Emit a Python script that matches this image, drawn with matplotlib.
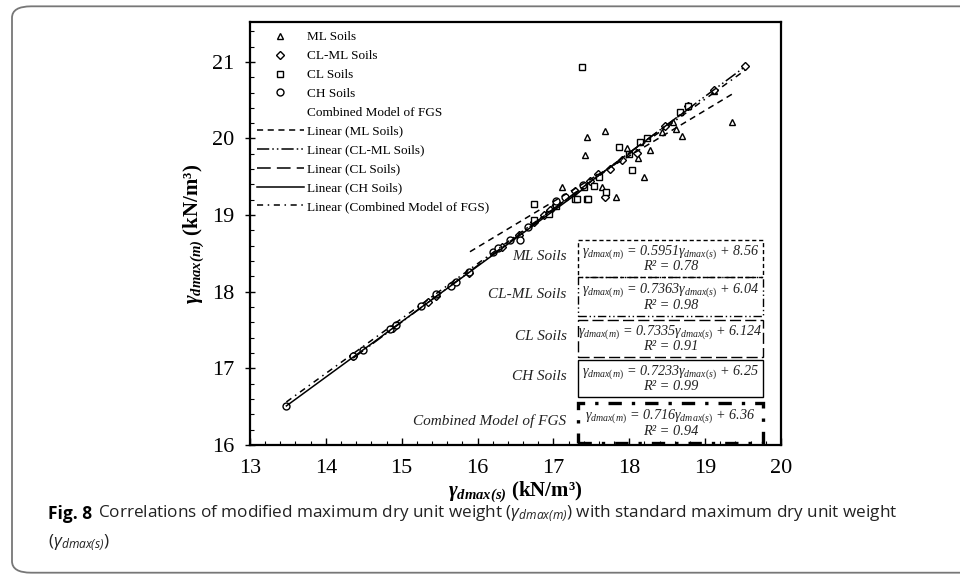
import numpy as np
import matplotlib
matplotlib.use("Agg")
import matplotlib.pyplot as plt
from matplotlib.lines import Line2D
from matplotlib.patches import Rectangle, FancyBboxPatch

plt.rcParams['font.family'] = ['Liberation Serif', 'DejaVu Serif']
plt.rcParams['mathtext.fontset'] = 'custom'
plt.rcParams['mathtext.rm'] = 'Liberation Serif'
plt.rcParams['mathtext.it'] = 'Liberation Serif:italic'
plt.rcParams['mathtext.bf'] = 'Liberation Serif:bold:italic'
plt.rcParams['mathtext.sf'] = 'Open Sans:italic'

# --- data ---
ml_x = [17.44, 17.68, 17.42, 17.97, 18.12, 18.28, 18.19, 17.64, 17.83, 17.11,
        18.43, 18.58, 18.62, 18.70, 19.36, 19.12, 17.00]
ml_y = [20.02, 20.10, 19.79, 19.87, 19.74, 19.85, 19.50, 19.37, 19.23, 19.37,
        20.09, 20.22, 20.13, 20.03, 20.21, 20.62, 19.12]

clml_x = [14.36, 14.88, 15.35, 15.45, 15.89, 16.32, 16.54, 16.74, 16.87, 16.96,
          17.05, 17.28, 17.48, 17.59, 17.68, 17.75, 17.90, 18.10, 18.47, 18.78,
          19.12, 19.53]
clml_y = [17.16, 17.53, 17.87, 17.95, 18.24, 18.59, 18.74, 18.91, 19.00, 19.07,
          19.16, 19.31, 19.44, 19.54, 19.24, 19.60, 19.72, 19.81, 20.16, 20.42,
          20.63, 20.94]

cl_x = [16.74, 16.74, 16.94, 17.29, 17.44, 17.38, 17.53, 17.46, 17.31, 17.69,
        17.86, 18.14, 18.04, 18.67, 18.78, 18.24, 17.04, 17.40, 17.60, 18.00]
cl_y = [19.15, 18.94, 19.02, 19.21, 19.21, 20.93, 19.38, 19.21, 19.21, 19.30,
        19.89, 19.95, 19.59, 20.34, 20.42, 20.00, 19.12, 19.37, 19.50, 19.80]

ch_x = [13.48, 14.36, 14.49, 14.85, 14.92, 15.26, 15.45, 15.65, 15.72, 15.89,
        16.21, 16.27, 16.43, 16.56, 16.67, 17.04, 17.15, 17.39]
ch_y = [16.51, 17.16, 17.24, 17.51, 17.57, 17.82, 17.97, 18.08, 18.13, 18.26,
        18.52, 18.57, 18.67, 18.67, 18.85, 19.18, 19.23, 19.39]

# trendlines as drawn: slope, drawn intercept, x range
groups = ['ML Soils', 'CL-ML Soils', 'CL Soils', 'CH Soils', 'Combined Model of FGS']
slopes = [0.5951, 0.7363, 0.7335, 0.7233, 0.716]
drawn_intercepts = [9.06, 6.56, 6.61, 6.76, 6.91]
fit_x0 = [15.90, 14.36, 16.74, 13.48, 13.48]
fit_x1 = [19.36, 19.53, 18.78, 17.40, 19.53]

eq_text = ['0.5951', '0.7363', '0.7335', '0.7233', '0.716']
eq_const = ['8.56', '6.04', '6.124', '6.25', '6.36']
r2_text = ['0.78', '0.98', '0.91', '0.99', '0.94']

line_styles = [(0, (4, 3)), (0, (8, 2, 1, 2, 1, 2)), (0, (9, 4)), '-', (0, (4, 3, 1, 3))]

fig = plt.figure(figsize=(9.6, 5.75), dpi=100)
ax = fig.add_axes([0.2604, 0.2261, 0.5531, 0.7356])

mk = dict(ls='none', mfc='white', mec='black', mew=1.0, ms=5)
ax.plot(ml_x, ml_y, marker='^', **mk)
ax.plot(clml_x, clml_y, marker='D', **dict(mk, ms=4.2))
ax.plot(cl_x, cl_y, marker='s', **dict(mk, ms=4.5))
ax.plot(ch_x, ch_y, marker='o', **mk)

for i in range(len(groups)):
    xx = np.array([fit_x0[i], fit_x1[i]])
    ax.plot(xx, slopes[i] * xx + drawn_intercepts[i], color='black',
            ls=line_styles[i], lw=1.1)

ax.set_xlim(13, 20)
ax.set_ylim(16, 21.52)
ax.set_xticks(range(13, 21))
ax.set_yticks(range(16, 22))
ax.set_xticks(np.arange(13, 20.01, 0.2), minor=True)
ax.set_yticks(np.arange(16, 21.52, 0.2), minor=True)
ax.tick_params(axis='both', which='major', labelsize=16, direction='in', length=5, width=1)
ax.tick_params(axis='both', which='minor', direction='in', length=3, width=0.8)
ax.tick_params(axis='y', which='major', direction='inout', length=7, pad=8)
ax.tick_params(axis='x', pad=10)
for s in ax.spines.values():
    s.set_linewidth(1.6)

ax.set_xlabel(r'$\mathbf{\gamma_{dmax(s)}}$ (kN/m³)', fontsize=15, fontweight='bold', labelpad=1)
ax.set_ylabel(r'$\mathbf{\gamma_{dmax(m)}}$ (kN/m³)', fontsize=15, fontweight='bold', labelpad=4)

# legend
h = []
for m, s in zip(['^', 'D', 's', 'o'], [5, 4.2, 4.5, 5]):
    h.append(Line2D([], [], marker=m, ls='none', mfc='white', mec='black', mew=1.0, ms=s))
h.append(Line2D([], [], ls='none'))
for st in line_styles:
    h.append(Line2D([], [], color='black', ls=st, lw=1.1))
labels = ['ML Soils', 'CL-ML Soils', 'CL Soils', 'CH Soils', 'Combined Model of FGS',
          'Linear (ML Soils)', 'Linear (CL-ML Soils)', 'Linear (CL Soils)',
          'Linear (CH Soils)', 'Linear (Combined Model of FGS)']
ax.legend(h, labels, loc='upper left', bbox_to_anchor=(-0.005, 1.0), frameon=False,
          fontsize=9.5, handlelength=3.6, handletextpad=0.25, labelspacing=0.5,
          borderaxespad=0.3)

# equation boxes
box_top = [0.485, 0.397, 0.296, 0.201, 0.099]
box_bot = [0.397, 0.305, 0.208, 0.113, 0.005]
box_ls = [(0, (3, 2)), (0, (6, 2, 1, 2, 1, 2)), (0, (8, 3)), '-', (0, (4, 3, 1, 3))]
box_lw = [1.0, 1.0, 1.0, 1.0, 2.4]
bx0, bx1 = 0.618, 0.966
for i in range(len(groups)):
    ax.add_patch(Rectangle((bx0, box_bot[i]), bx1 - bx0, box_top[i] - box_bot[i],
                           transform=ax.transAxes, fill=False, ec='black',
                           ls=box_ls[i], lw=box_lw[i], clip_on=False))
    hgt = box_top[i] - box_bot[i]
    ax.text((bx0 + bx1) / 2, box_top[i] - hgt * 0.33,
            r'$\gamma_{dmax(m)}$ = ' + eq_text[i] + r'$\gamma_{dmax(s)}$ + ' + eq_const[i],
            transform=ax.transAxes, ha='center', va='center', fontsize=10.2,
            style='italic', color='#222222')
    ax.text((bx0 + bx1) / 2, box_top[i] - hgt * 0.72, 'R² = ' + r2_text[i],
            transform=ax.transAxes, ha='center', va='center', fontsize=10.4,
            style='italic', color='#222222')
    ax.text(0.596, (box_top[i] + box_bot[i]) / 2 + 0.005, groups[i], transform=ax.transAxes,
            ha='right', va='center', fontsize=11, style='italic', color='#222222')

# outer rounded frame and caption
fig.patches.append(FancyBboxPatch((0.0125, 0.004), 1.05, 0.985,
                                  boxstyle='round,pad=0,rounding_size=0.02',
                                  transform=fig.transFigure, fill=False,
                                  ec='#777777', lw=1.3))
fig.text(0.05, 0.106, 'Fig. 8', fontsize=12.5, fontweight='bold',
         family=['Open Sans', 'DejaVu Sans'], va='center')
fig.text(0.102, 0.106,
         r'Correlations of modified maximum dry unit weight ($\mathsf{\gamma_{dmax(m)}}$)'
         r' with standard maximum dry unit weight',
         fontsize=12.3, family=['Open Sans', 'DejaVu Sans'], va='center', color='#222222')
fig.text(0.05, 0.056, r'($\mathsf{\gamma_{dmax(s)}}$)', fontsize=12.3,
         family=['Open Sans', 'DejaVu Sans'], va='center', color='#222222')

fig.savefig('out.png', dpi=100)
